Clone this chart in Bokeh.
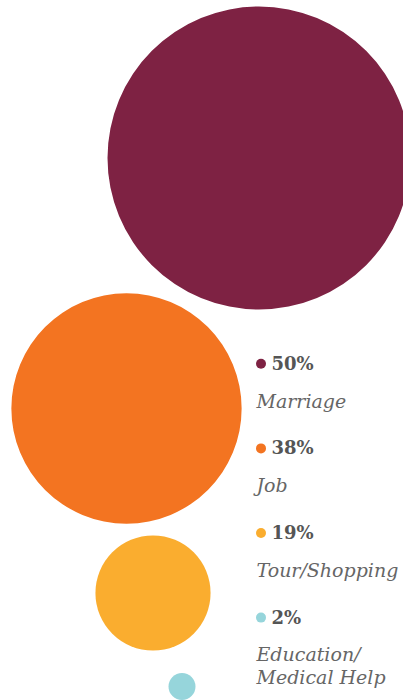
from bokeh.plotting import figure
from bokeh.models import Range1d, ColumnDataSource
from bokeh.core.properties import value
from bokeh.embed import file_html
from bokeh.resources import INLINE

# ---- data ----
categories = ["Marriage", "Job", "Tour/Shopping", "Education/\nMedical Help"]
values = [50, 38, 19, 2]
colors = ["#7E2243", "#F37421", "#FAAD2F", "#96D5DB"]

# ---- layout (pixel space of the picture) ----
bubble_x = [258.5, 126, 152.5, 181.5]
bubble_y = [157.5, 408, 592.5, 686]
px_per_pct = 3.03
min_radius = 13.5

legend_dot_x = 260.5
legend_text_x = 271
legend_label_x = 256
legend_top = 363.3
legend_step = 84.6

p = figure(width=403, height=700, output_backend="svg", toolbar_location=None,
           x_range=Range1d(0, 403), y_range=Range1d(700, 0),
           min_border=0, outline_line_color=None)
p.axis.visible = False
p.grid.visible = False
p.background_fill_color = "white"
p.border_fill_color = "white"

radii = [max(v * px_per_pct, min_radius) for v in values]
src = ColumnDataSource(dict(x=bubble_x, y=bubble_y, r=radii, c=colors))
p.circle(x="x", y="y", radius="r", fill_color="c", line_color=None, source=src)

# legend
ly = [legend_top + legend_step * i for i in range(len(values))]
p.circle(x=[legend_dot_x] * len(values), y=ly, radius=5, fill_color=colors, line_color=None)
p.text(x=[legend_text_x] * len(values), y=[y - 0.5 for y in ly],
       text=[f"{v}%" for v in values],
       text_font=value("DejaVu Serif"), text_font_style="bold", text_font_size="18px",
       text_color="#555555", text_baseline="alphabetic", text_align="left")

lx, lyy, lt = [], [], []
for i, c in enumerate(categories):
    for j, line in enumerate(c.split("\n")):
        lx.append(legend_label_x)
        lyy.append(ly[i] + 36.7 + j * 23)
        lt.append(line)
p.text(x=lx, y=lyy, text=lt,
       text_font=value("DejaVu Serif"), text_font_style="italic", text_font_size="19px",
       text_color="#666666", text_baseline="alphabetic", text_align="left")

open("out.html", "w").write(file_html(p, INLINE))
